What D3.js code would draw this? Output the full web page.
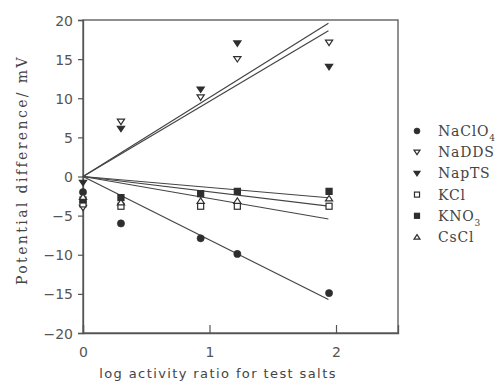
<!DOCTYPE html>
<html>
<head>
<meta charset="utf-8">
<script src="https://cdn.jsdelivr.net/npm/d3@7"></script>
<style>
  html, body { margin: 0; padding: 0; background: #fff; }
  svg { display: block; }
</style>
</head>
<body>
<script>
// log activity ratio at which each salt was measured
const logRatio = [0, 0.30, 0.93, 1.22, 1.945];

// measured potential differences (mV) for each salt
const naClO4 = [-2.0, -6.0, -7.9, -9.9, -14.9];
const naDDS  = [-4.0, 7.0, 10.1, 15.0, 17.1];
const napTS  = [-0.8, 6.1, 11.1, 17.0, 14.0];
const kCl    = [-3.5, -3.8, -3.8, -3.8, -3.8];
const kNO3   = [-3.0, -2.7, -2.2, -1.9, -1.9];
const csCl   = [-2.6, -3.3, -3.1, -3.1, -2.8];

// slopes (mV per log unit) of the fitted lines through the origin
const fitSlopes = [-8.1, 9.6, 10.1, -2.8, -1.4, -1.95];
const fitEnd = 1.94;

const seriesNames = ["NaClO4", "NaDDS", "NapTS", "KCl", "KNO3", "CsCl"];
const seriesSub = ["4", "", "", "", "3", ""];
const seriesBase = ["NaClO", "NaDDS", "NapTS", "KCl", "KNO", "CsCl"];
const seriesSymbols = ["circle", "triDownOpen", "triDown", "squareOpen", "square", "triUpOpen"];

const xTicks = [0, 1, 2];
const yTicks = [-20, -15, -10, -5, 0, 5, 10, 15, 20];

const allValues = [naClO4, naDDS, napTS, kCl, kNO3, csCl];

const W = 497, H = 385;
const ink = "#2e2e2e";
const svg = d3.select("body").append("svg").attr("width", W).attr("height", H);

const x = d3.scaleLinear().domain([0, 2.49]).range([83, 398]);
const y = d3.scaleLinear().domain([-20, 20]).range([333, 20]);

// frame
svg.append("rect")
  .attr("x", x(0)).attr("y", y(20))
  .attr("width", x(2.49) - x(0)).attr("height", y(-20) - y(20))
  .attr("fill", "none").attr("stroke", "#555").attr("stroke-width", 1.3);

// y axis: outward ticks
const yAxis = d3.axisLeft(y).tickValues(yTicks).tickSize(5).tickPadding(5).tickFormat(d3.format("d"));
const gy = svg.append("g").attr("transform", `translate(${x(0)},0)`).call(yAxis);
gy.select(".domain").attr("stroke", "#555").attr("stroke-width", 1.3);
gy.selectAll(".tick line").attr("stroke", "#555").attr("stroke-width", 1.2);
gy.selectAll(".tick text")
  .attr("font-family", "'DejaVu Sans', sans-serif").attr("font-size", 14)
  .attr("fill", "#555").attr("dy", "0.36em");

// x axis: inward ticks
const xAxis = d3.axisBottom(x).tickValues(xTicks).tickSize(-8).tickPadding(14).tickFormat(d3.format("d"));
const gx = svg.append("g").attr("transform", `translate(0,${y(-20)})`).call(xAxis);
gx.select(".domain").attr("stroke", "#555").attr("stroke-width", 1.3);
gx.selectAll(".tick line").attr("stroke", "#555").attr("stroke-width", 1.2);
gx.selectAll(".tick text")
  .attr("font-family", "'DejaVu Sans', sans-serif").attr("font-size", 14)
  .attr("fill", "#555");

// axis titles
svg.append("text")
  .attr("x", 218).attr("y", 378)
  .attr("text-anchor", "middle")
  .attr("font-family", "'DejaVu Sans', sans-serif").attr("font-size", 13)
  .attr("letter-spacing", 1.4)
  .attr("fill", "#444")
  .text("log activity ratio for test salts");

svg.append("text")
  .attr("transform", `translate(27,${170}) rotate(-90)`)
  .attr("text-anchor", "middle")
  .attr("font-family", "'DejaVu Serif', serif").attr("font-size", 14)
  .attr("letter-spacing", 2.4)
  .attr("fill", "#444")
  .text("Potential difference/ mV");

// fitted lines
const line = d3.line().x(d => x(d[0])).y(d => y(d[1]));
svg.append("g").selectAll("path")
  .data(fitSlopes)
  .join("path")
  .attr("d", s => line([[0, 0], [fitEnd, s * fitEnd]]))
  .attr("fill", "none").attr("stroke", "#444").attr("stroke-width", 1.2);

// marker drawing
function drawSymbol(g, kind, cx, cy, s) {
  const filled = !kind.endsWith("Open");
  const fill = filled ? ink : "#fff";
  const sw = 1.2;
  if (kind === "circle") {
    g.append("circle").attr("cx", cx).attr("cy", cy).attr("r", s * 0.5)
      .attr("fill", ink).attr("stroke", ink).attr("stroke-width", 0.6);
  } else if (kind.startsWith("square")) {
    const h = s * 0.42;
    g.append("rect").attr("x", cx - h).attr("y", cy - h).attr("width", 2 * h).attr("height", 2 * h)
      .attr("fill", fill).attr("stroke", ink).attr("stroke-width", sw);
  } else if (kind.startsWith("triDown")) {
    const h = s * 0.5;
    const pts = [[cx - h, cy - h * 0.7], [cx + h, cy - h * 0.7], [cx, cy + h * 0.8]];
    g.append("path").attr("d", d3.line()(pts) + "Z")
      .attr("fill", fill).attr("stroke", ink).attr("stroke-width", sw);
  } else if (kind.startsWith("triUp")) {
    const h = s * 0.5;
    const pts = [[cx - h, cy + h * 0.7], [cx + h, cy + h * 0.7], [cx, cy - h * 0.8]];
    g.append("path").attr("d", d3.line()(pts) + "Z")
      .attr("fill", fill).attr("stroke", ink).attr("stroke-width", sw);
  }
}

// data points
const pts = svg.append("g");
allValues.forEach((vals, i) => {
  vals.forEach((v, j) => {
    drawSymbol(pts, seriesSymbols[i], x(logRatio[j]), y(v), 7.2);
  });
});

// legend
const legend = svg.append("g");
const legendY = d3.scalePoint().domain(seriesNames).range([131, 237]);
seriesNames.forEach((name, i) => {
  const ly = legendY(name);
  drawSymbol(legend, seriesSymbols[i], 417, ly, 6);
  const t = legend.append("text")
    .attr("x", 438).attr("y", ly + 5)
    .attr("font-family", "'DejaVu Serif', serif").attr("font-size", 14)
    .attr("letter-spacing", 0.8)
    .attr("fill", "#444")
    .text(seriesBase[i]);
  if (seriesSub[i]) {
    t.append("tspan").attr("dy", 5).attr("font-size", 9).text(seriesSub[i]);
  }
});
</script>
</body>
</html>
